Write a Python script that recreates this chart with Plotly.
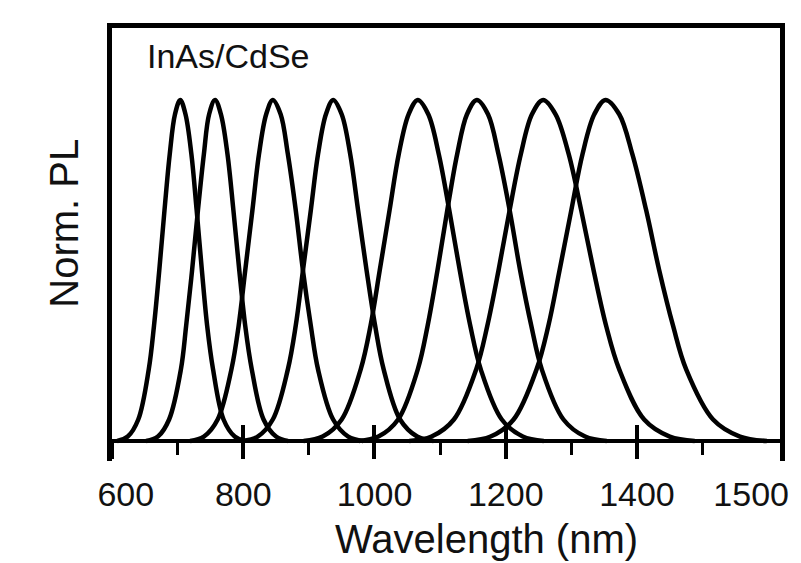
import plotly.graph_objects as go

# ---- data (wavelength in nm, normalized PL) ----
pl_shape = [0.0, 0.013, 0.063, 0.21, 0.338, 0.5, 0.677, 0.841, 0.958, 1.0,
            0.958, 0.841, 0.677, 0.5, 0.338, 0.21, 0.063, 0.013, 0.0]

wl_1 = [608, 624, 640, 656, 664, 672, 680, 688, 696, 704, 712, 721, 729, 737, 745, 754, 770, 787, 803]
pl_1 = pl_shape
wl_2 = [652, 670, 687, 705, 713, 722, 731, 740, 748, 757, 766, 776, 785, 794, 803, 813, 831, 850, 868]
pl_2 = pl_shape
wl_3 = [719, 740, 761, 782, 793, 803, 814, 824, 835, 845, 857, 868, 880, 891, 903, 914, 937, 960, 983]
pl_3 = pl_shape
wl_4 = [799, 822, 845, 868, 880, 891, 903, 914, 926, 937, 950, 963, 975, 988, 1001, 1014, 1039, 1065, 1090]
pl_4 = pl_shape
wl_5 = [892, 921, 950, 979, 994, 1008, 1023, 1037, 1052, 1066, 1082, 1098, 1114, 1130, 1146, 1162, 1194, 1226, 1258]
pl_5 = pl_shape
wl_6 = [976, 1006, 1036, 1066, 1081, 1096, 1111, 1126, 1141, 1156, 1173, 1189, 1206, 1222, 1239, 1255, 1288, 1321, 1354]
pl_6 = pl_shape
wl_7 = [1053, 1087, 1121, 1155, 1172, 1189, 1206, 1223, 1240, 1257, 1276, 1296, 1315, 1334, 1353, 1373, 1411, 1450, 1488]
pl_7 = pl_shape
wl_8 = [1142, 1177, 1212, 1247, 1265, 1282, 1300, 1317, 1335, 1352, 1373, 1393, 1414, 1434, 1455, 1475, 1516, 1557, 1598]
pl_8 = pl_shape

series = [(wl_1, pl_1), (wl_2, pl_2), (wl_3, pl_3), (wl_4, pl_4),
          (wl_5, pl_5), (wl_6, pl_6), (wl_7, pl_7), (wl_8, pl_8)]

major_ticks = [600, 800, 1000, 1200, 1400]
minor_ticks = [700, 900, 1100, 1300, 1500]
label_pos = [621, 800, 1000, 1200, 1400, 1574]
label_text = ["600", "800", "1000", "1200", "1400", "1500"]

x_range = [600, 1618]
y_range = [-0.0587, 1.211]
base_pos = 0.0462  # paper position of the y = 0 baseline

FONT = "Liberation Sans, Arial, sans-serif"

fig = go.Figure()
for wl, pl in series:
    fig.add_trace(go.Scatter(x=wl, y=pl, mode="lines",
                             line=dict(color="black", width=4.5, shape="spline", smoothing=1.0),
                             showlegend=False, hoverinfo="skip"))
for ax in ["x2", "x3", "x4"]:
    fig.add_trace(go.Scatter(x=[None], y=[None], xaxis=ax, yaxis="y", showlegend=False, hoverinfo="skip"))

common = dict(range=x_range, showgrid=False, zeroline=False, fixedrange=True)

fig.update_layout(
    width=801, height=563,
    margin=dict(l=104, r=29, t=20, b=110),
    paper_bgcolor="white", plot_bgcolor="white",
    font=dict(family=FONT, color="black"),
    xaxis=dict(**common, anchor="free", position=base_pos, showline=True, linewidth=3.5, linecolor="black",
               tickmode="array", tickvals=major_ticks, ticks="outside", ticklen=16, tickwidth=3.5,
               tickcolor="black", showticklabels=False,
               minor=dict(tickmode="array", tickvals=minor_ticks, ticks="outside", ticklen=12,
                          tickwidth=3, tickcolor="black", showgrid=False)),
    xaxis2=dict(**common, overlaying="x", anchor="free", position=base_pos, showline=False,
                tickmode="array", tickvals=major_ticks, ticks="inside", ticklen=16, tickwidth=3.5,
                tickcolor="black", showticklabels=False),
    xaxis3=dict(**common, overlaying="x", anchor="free", position=base_pos, showline=False,
                tickmode="array", tickvals=label_pos, ticktext=label_text, ticks="",
                tickfont=dict(size=34, family=FONT, color="#111"), ticklabelstandoff=30),
    xaxis4=dict(**common, overlaying="x", anchor="y", side="top", showline=True, linewidth=4.5,
                linecolor="black", ticks="", showticklabels=False),
    yaxis=dict(range=y_range, showline=True, mirror=True, linewidth=4.5, linecolor="black",
               ticks="", showticklabels=False, showgrid=False, zeroline=False, fixedrange=True),
    annotations=[
        dict(text="InAs/CdSe", xref="paper", yref="paper", x=0.049, y=0.935, xanchor="left",
             yanchor="middle", showarrow=False, font=dict(size=34, family=FONT, color="#111")),
        dict(text="Wavelength (nm)", xref="paper", yref="paper", x=0.56, y=-0.18, xanchor="center",
             yanchor="middle", showarrow=False, font=dict(size=40, family=FONT, color="#111")),
        dict(text="Norm. PL", xref="paper", yref="paper", x=-0.072, y=0.55, xanchor="center",
             yanchor="middle", textangle=-90, showarrow=False, font=dict(size=40, family=FONT, color="#111")),
    ],
)

fig.write_html("out.html")
